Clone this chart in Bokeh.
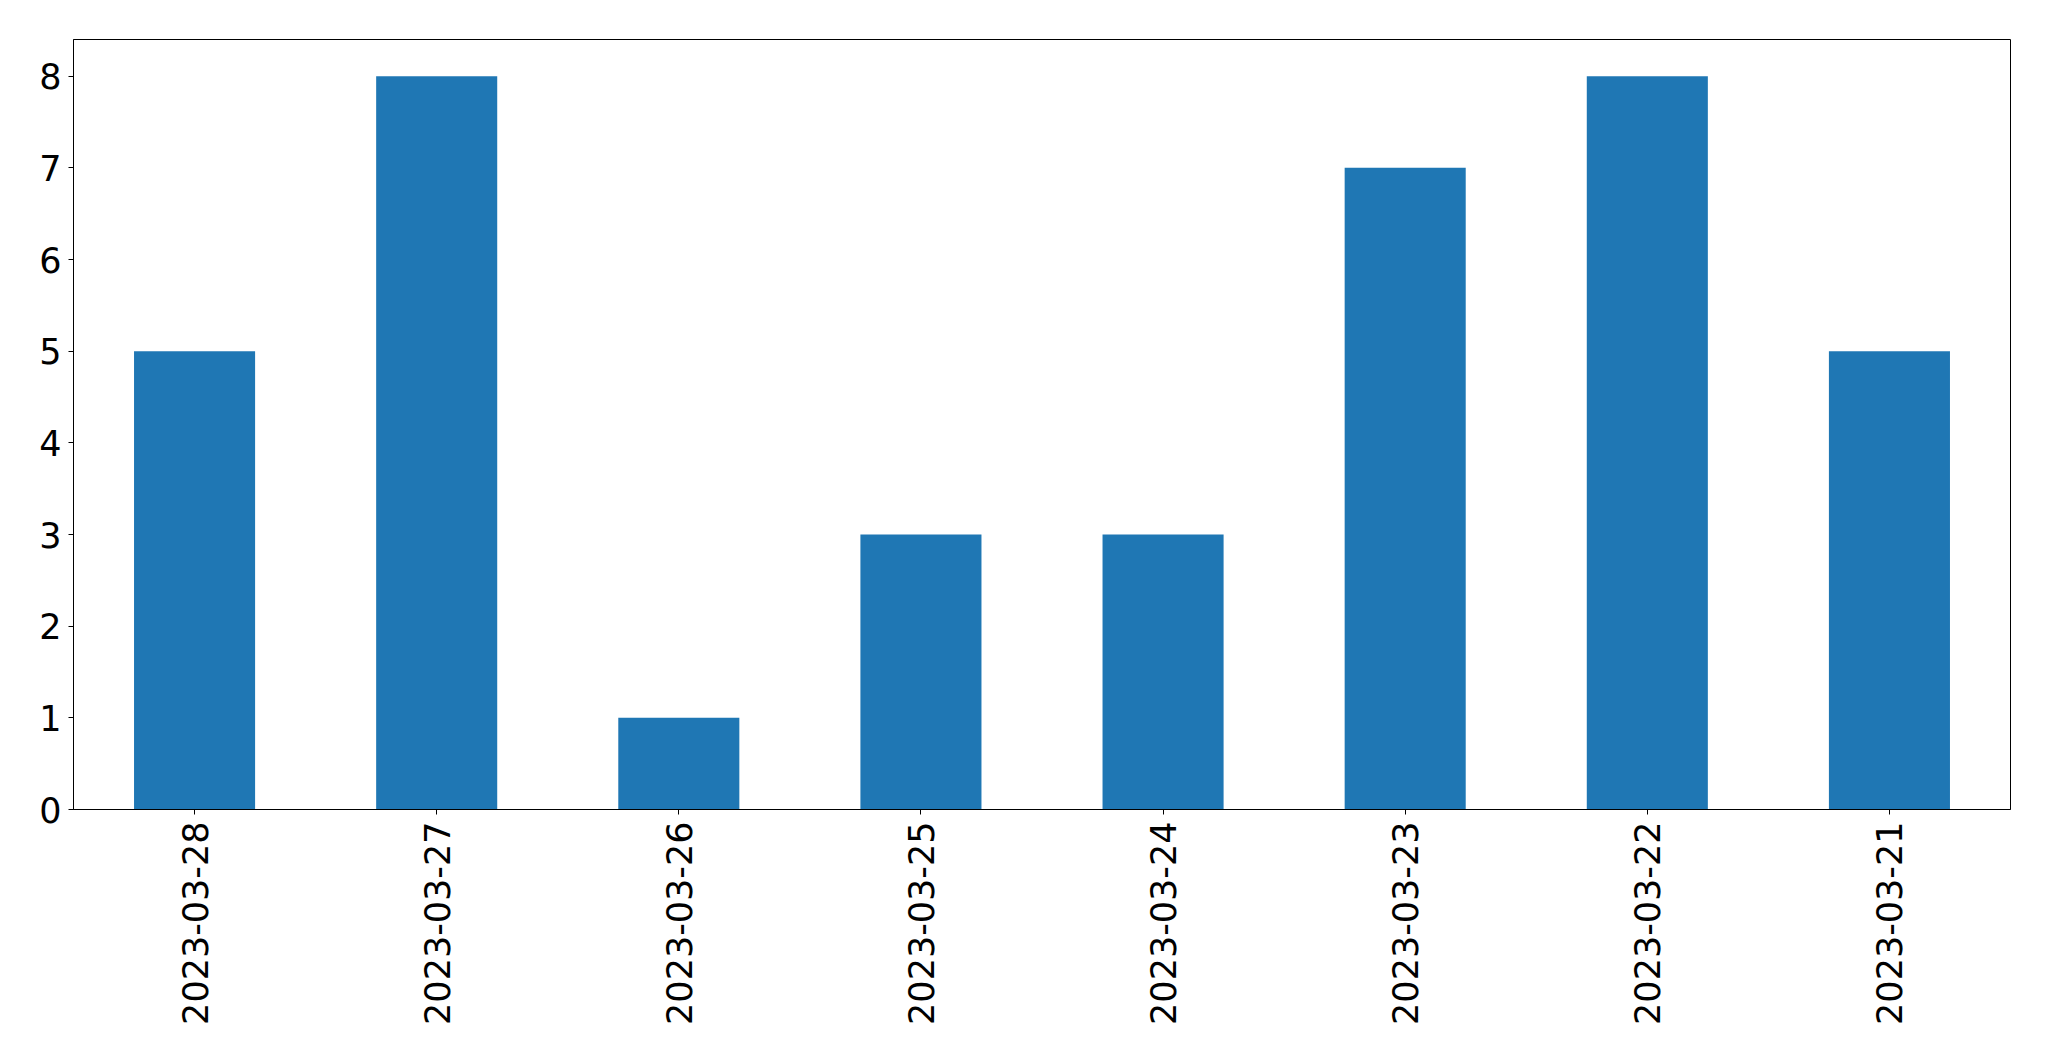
import math
from bokeh.plotting import figure
from bokeh.models import FactorRange, Range1d, FixedTicker, ColumnDataSource
from bokeh.embed import file_html
from bokeh.resources import INLINE

dates = ["2023-03-28", "2023-03-27", "2023-03-26", "2023-03-25",
         "2023-03-24", "2023-03-23", "2023-03-22", "2023-03-21"]
counts = [5, 8, 1, 3, 3, 7, 8, 5]
y_ticks = [0, 1, 2, 3, 4, 5, 6, 7, 8]

src = ColumnDataSource(dict(x=dates, top=counts))

p = figure(x_range=FactorRange(factors=dates, range_padding=0),
           y_range=Range1d(0, 8.4),
           frame_width=1937, frame_height=770,
           min_border_left=73, min_border_top=39, min_border_right=15, min_border_bottom=10,
           output_backend="svg", toolbar_location=None, tools="")

p.vbar(x="x", top="top", width=0.5, source=src, color="#1f77b4", line_color=None)

p.xgrid.visible = False
p.ygrid.visible = False
p.outline_line_color = "black"
p.outline_line_width = 1
p.outline_line_alpha = 1
p.background_fill_color = "white"
p.border_fill_color = "white"

p.yaxis.ticker = FixedTicker(ticks=y_ticks)
for ax in (p.xaxis[0], p.yaxis[0]):
    ax.axis_line_color = "black"
    ax.axis_line_width = 1
    ax.major_tick_line_color = "black"
    ax.major_tick_out = 5
    ax.major_tick_in = 0
    ax.minor_tick_line_color = None
    ax.major_label_text_font = "DejaVu Sans"
    ax.major_label_text_font_size = "35px"
    ax.major_label_text_color = "black"
    ax.major_label_standoff = 7

p.xaxis.major_label_orientation = math.pi / 2
p.xaxis.group_text_font_size = "0px"

open("out.html", "w").write(file_html(p, INLINE))
